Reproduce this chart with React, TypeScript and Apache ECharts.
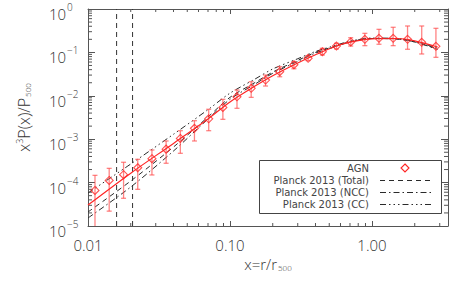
import React, { useEffect, useRef } from "react";
import * as echarts from "echarts";

// ---- data ----
const agnX = [0.0112, 0.0141, 0.0178, 0.0224, 0.0282, 0.0355, 0.0447, 0.0562, 0.0708, 0.0891, 0.112, 0.141, 0.178, 0.224, 0.282, 0.355, 0.447, 0.562, 0.708, 0.891, 1.12, 1.41, 1.78, 2.24, 2.82];
const agnY = [6.6e-5, 1.12e-4, 1.52e-4, 2.2e-4, 3.56e-4, 5.9e-4, 1.04e-3, 1.78e-3, 2.95e-3, 5.4e-3, 9.5e-3, 0.0149, 0.0231, 0.0359, 0.0521, 0.0731, 0.1038, 0.14, 0.174, 0.2, 0.211, 0.211, 0.2, 0.171, 0.138];
const agnLo = [1e-6, 2.2e-5, 4.35e-5, 7.0e-5, 1.5e-4, 2.79e-4, 4.73e-4, 9.1e-4, 1.57e-3, 2.87e-3, 5.15e-3, 9.2e-3, 0.0168, 0.0275, 0.042, 0.065, 0.087, 0.12, 0.14, 0.143, 0.154, 0.143, 0.118, 0.092, 0.077];
const agnHi = [1.47e-4, 2.13e-4, 2.94e-4, 3.44e-4, 5.64e-4, 9.1e-4, 1.57e-3, 2.67e-3, 4.89e-3, 8.3e-3, 0.0136, 0.0211, 0.0301, 0.0469, 0.061, 0.083, 0.124, 0.162, 0.218, 0.275, 0.34, 0.379, 0.406, 0.406, 0.359];

const modelX = [0.01, 0.02, 0.04, 0.07, 0.1, 0.15, 0.2, 0.3, 0.4, 0.55, 0.7, 1.0, 1.5, 2.0, 2.9];
const fitY = [3.05e-5, 1.65e-4, 8.0e-4, 2.92e-3, 7.23e-3, 0.01675, 0.029, 0.057, 0.0881, 0.137, 0.173, 0.206, 0.209, 0.185, 0.133];
const totalY = [2.1e-5, 1.09e-4, 6.61e-4, 3.25e-3, 9.2e-3, 0.0202, 0.0352, 0.0655, 0.1, 0.139, 0.177, 0.209, 0.204, 0.174, 0.12];
const nccY = [1.53e-5, 7.92e-5, 5.35e-4, 2.92e-3, 8.3e-3, 0.0186, 0.033, 0.062, 0.0965, 0.135, 0.174, 0.209, 0.204, 0.174, 0.117];
const ccY = [5.76e-5, 2.68e-4, 1.3e-3, 4.8e-3, 0.0115, 0.0243, 0.0415, 0.0715, 0.105, 0.144, 0.182, 0.214, 0.209, 0.178, 0.126];

const vLineX = [0.0159, 0.0206];

const seriesNames = ["AGN", "Planck 2013 (Total)", "Planck 2013 (NCC)", "Planck 2013 (CC)"];

const X_MIN = 0.01;
const X_MAX = 3.43;
const Y_MIN = 1e-5;
const Y_MAX = 1;

const xMinorTicks = [0.02, 0.03, 0.04, 0.05, 0.06, 0.07, 0.08, 0.09, 0.2, 0.3, 0.4, 0.5, 0.6, 0.7, 0.8, 0.9, 2, 3];
const yDecades = [1e-5, 1e-4, 1e-3, 1e-2, 1e-1];
const mantissas = [2, 3, 4, 5, 6, 7, 8, 9];
const yMinorTicks: number[] = [];
yDecades.forEach((d) => mantissas.forEach((m) => yMinorTicks.push(m * d)));

const AX = "#555";
const TXT = "#333";
const FONT = "Open Sans";
const FW = 300;
const RED = "#ff2424";
const ERR = "rgba(255,80,80,0.7)";
const BLK = "#2a2a2a";

const DASH_TOTAL = [5, 4];
const DASH_NCC = [6, 3, 1.5, 3];
const DASH_CC = [6, 3, 1.5, 3, 1.5, 3, 1.5, 3];

export default function App() {
  const ref = useRef<HTMLDivElement>(null);
  useEffect(() => {
    if (!ref.current) return;
    const chart = echarts.init(ref.current, undefined, { renderer: "svg" });

    const yLabelFmt = (v: number) => {
      const e = Math.round(Math.log10(v));
      const s = e < 0 ? "\u2212" + -e : String(e);
      return `{b|10}{s|${s}}`;
    };

    const txt = (size: number, extra: any = {}) => ({
      fontSize: size,
      fontFamily: FONT,
      fontWeight: FW,
      color: TXT,
      ...extra,
    });

    const legendRows = [168, 180.5, 192.5, 204.5];

    const option: any = {
      animation: false,
      backgroundColor: "#fff",
      grid: { left: 88, top: 9, right: 15, bottom: 57, containLabel: false },
      xAxis: [
        {
          type: "log",
          min: X_MIN,
          max: X_MAX,
          position: "bottom",
          axisLine: { show: true, lineStyle: { color: AX, width: 1 } },
          axisTick: { show: true, inside: true, length: 5, lineStyle: { color: AX } },
          splitLine: { show: false },
          axisLabel: {
            formatter: (v: number) => v.toFixed(2),
            ...txt(15),
            margin: 11,
            showMaxLabel: false,
          },
          name: "{a|x=r/r}{sub|500}",
          nameLocation: "middle",
          nameGap: 28,
          nameTextStyle: {
            rich: {
              a: txt(15),
              sub: txt(8, { padding: [7, 0, 0, 1] }),
            },
          },
        },
        {
          type: "log",
          min: X_MIN,
          max: X_MAX,
          position: "top",
          axisLine: { show: true, lineStyle: { color: AX, width: 1 } },
          axisTick: { show: true, inside: true, length: 5, lineStyle: { color: AX } },
          splitLine: { show: false },
          axisLabel: { show: false },
        },
      ],
      yAxis: [
        {
          type: "log",
          min: Y_MIN,
          max: Y_MAX,
          position: "left",
          axisLine: { show: true, lineStyle: { color: AX, width: 1 } },
          axisTick: { show: true, inside: true, length: 7, lineStyle: { color: AX } },
          splitLine: { show: false },
          axisLabel: {
            formatter: yLabelFmt,
            align: "left",
            margin: 39,
            rich: {
              b: txt(15, { padding: [10, 0, 0, 0] }),
              s: txt(10, { padding: [0, 0, 4, 1] }),
            },
          },
          name: "{a|x}{sup|3}{a|P(x)/P}{sub|500}",
          nameLocation: "middle",
          nameGap: 56,
          nameRotate: 90,
          nameTextStyle: {
            rich: {
              a: txt(16),
              sup: txt(9, { padding: [0, 0, 8, 0] }),
              sub: txt(8, { padding: [7, 0, 0, 1] }),
            },
          },
        },
        {
          type: "log",
          min: Y_MIN,
          max: Y_MAX,
          position: "right",
          axisLine: { show: true, lineStyle: { color: AX, width: 1 } },
          axisTick: { show: true, inside: true, length: 7, lineStyle: { color: AX } },
          splitLine: { show: false },
          axisLabel: { show: false },
        },
      ],
      series: [
        {
          type: "custom",
          silent: true,
          z: 1,
          data: xMinorTicks.map((v) => [v, Y_MIN]),
          renderItem: (_p: any, api: any) => {
            const v = api.value(0);
            const b = api.coord([v, Y_MIN]);
            const t = api.coord([v, Y_MAX]);
            return {
              type: "group",
              children: [
                { type: "line", shape: { x1: b[0], y1: b[1], x2: b[0], y2: b[1] - 3 }, style: { stroke: AX, lineWidth: 1 } },
                { type: "line", shape: { x1: t[0], y1: t[1], x2: t[0], y2: t[1] + 3 }, style: { stroke: AX, lineWidth: 1 } },
              ],
            };
          },
        },
        {
          type: "custom",
          silent: true,
          z: 1,
          data: yMinorTicks.map((v) => [X_MIN, v]),
          renderItem: (_p: any, api: any) => {
            const v = api.value(1);
            const l = api.coord([X_MIN, v]);
            const r = api.coord([X_MAX, v]);
            return {
              type: "group",
              children: [
                { type: "line", shape: { x1: l[0], y1: l[1], x2: l[0] + 4, y2: l[1] }, style: { stroke: AX, lineWidth: 1 } },
                { type: "line", shape: { x1: r[0], y1: r[1], x2: r[0] - 4, y2: r[1] }, style: { stroke: AX, lineWidth: 1 } },
              ],
            };
          },
        },
        ...vLineX.map((x) => ({
          type: "line",
          silent: true,
          z: 2,
          showSymbol: false,
          data: [
            [x, Y_MIN],
            [x, Y_MAX],
          ],
          lineStyle: { color: "#333", width: 1, type: [5, 4] },
        })),
        {
          name: seriesNames[1],
          type: "line",
          z: 3,
          smooth: 0.3,
          showSymbol: false,
          data: modelX.map((x, i) => [x, totalY[i]]),
          lineStyle: { color: BLK, width: 1, type: DASH_TOTAL },
        },
        {
          name: seriesNames[2],
          type: "line",
          z: 3,
          smooth: 0.3,
          showSymbol: false,
          data: modelX.map((x, i) => [x, nccY[i]]),
          lineStyle: { color: BLK, width: 1, type: DASH_NCC },
        },
        {
          name: seriesNames[3],
          type: "line",
          z: 3,
          smooth: 0.3,
          showSymbol: false,
          data: modelX.map((x, i) => [x, ccY[i]]),
          lineStyle: { color: BLK, width: 1, type: DASH_CC },
        },
        {
          type: "custom",
          z: 4,
          clip: true,
          silent: true,
          encode: { x: 0, y: [1, 2] },
          data: agnX.map((x, i) => [x, agnLo[i], agnHi[i]]),
          renderItem: (_p: any, api: any) => {
            const x = api.value(0);
            const lo = api.coord([x, api.value(1)]);
            const hi = api.coord([x, api.value(2)]);
            const w = 2.5;
            return {
              type: "group",
              children: [
                { type: "line", shape: { x1: lo[0], y1: lo[1], x2: hi[0], y2: hi[1] }, style: { stroke: ERR, lineWidth: 1.3 } },
                { type: "line", shape: { x1: hi[0] - w, y1: hi[1], x2: hi[0] + w, y2: hi[1] }, style: { stroke: ERR, lineWidth: 1.3 } },
                { type: "line", shape: { x1: lo[0] - w, y1: lo[1], x2: lo[0] + w, y2: lo[1] }, style: { stroke: ERR, lineWidth: 1.3 } },
              ],
            };
          },
        },
        {
          type: "line",
          z: 5,
          smooth: 0.3,
          showSymbol: false,
          data: modelX.map((x, i) => [x, fitY[i]]),
          lineStyle: { color: RED, width: 1.2 },
        },
        {
          name: seriesNames[0],
          type: "scatter",
          z: 6,
          symbol: "diamond",
          symbolSize: 8,
          data: agnX.map((x, i) => [x, agnY[i]]),
          itemStyle: { color: "rgba(255,255,255,0)", borderColor: RED, borderWidth: 1.1 },
        },
      ],
      graphic: [
        {
          type: "rect",
          z: 100,
          shape: { x: 259.5, y: 160.5, width: 182, height: 53 },
          style: { fill: "#fff", stroke: "#444", lineWidth: 1 },
        },
        ...seriesNames.map((n, i) => ({
          type: "text",
          z: 101,
          style: {
            text: n,
            x: 369,
            y: legendRows[i],
            align: "right",
            verticalAlign: "middle",
            fill: "#444",
            fontFamily: "DejaVu Sans",
            fontSize: 10,
          },
        })),
        {
          type: "polygon",
          z: 101,
          shape: { points: [[405, 164], [409, 168], [405, 172], [401, 168]] },
          style: { fill: "none", stroke: RED, lineWidth: 1.1 },
        },
        ...[DASH_TOTAL, DASH_NCC, DASH_CC].map((d, i) => ({
          type: "line",
          z: 101,
          shape: { x1: 380, y1: legendRows[i + 1], x2: 432, y2: legendRows[i + 1] },
          style: { stroke: BLK, lineWidth: 1, lineDash: d },
        })),
      ],
    };

    chart.setOption(option);
    return () => chart.dispose();
  }, []);

  return (
    <div
      ref={ref}
      style={{ position: "fixed", left: 0, top: 0, width: 463, height: 283, background: "#fff" }}
    />
  );
}
